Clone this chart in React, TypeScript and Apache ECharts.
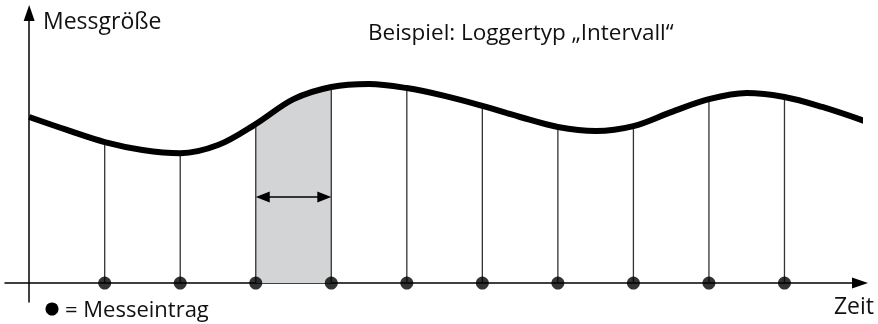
import React, { useEffect, useRef } from "react";
import * as echarts from "echarts";

// Measured quantity over time (arbitrary units)
const curveTimes = [0, 0.5, 1, 1.5, 2, 2.5, 3, 3.5, 4, 4.5, 5, 5.5, 6, 6.5, 7, 7.5, 8, 8.5, 9, 9.5, 10, 10.5, 11.06];
const curveValues = [6.15, 5.67, 5.22, 4.93, 4.81, 5.11, 5.89, 6.81, 7.26, 7.37, 7.22, 6.93, 6.56, 6.15, 5.78, 5.63, 5.81, 6.33, 6.81, 7.04, 6.89, 6.52, 6.0];
// Logger entries (interval logger)
const sampleTimes = [1, 2, 3, 4, 5, 6, 7, 8, 9, 10];
// Highlighted interval
const intervalBounds = [3, 4];
const intervalArrowLevel = [3.19];

const yAxisTitle = "Messgröße";
const xAxisTitle = "Zeit";
const chartTitle = "Beispiel: Loggertyp „Intervall“";
const legendText = "= Messeintrag";

const FONT = "Open Sans";

export default function App() {
  const ref = useRef<HTMLDivElement>(null);
  useEffect(() => {
    const chart = echarts.init(ref.current!, null, { renderer: "svg" });
    const curve = curveTimes.map((t, i) => [t, curveValues[i]]);
    const valueAt = (t: number) => curveValues[curveTimes.indexOf(t)];
    const samples = sampleTimes.map((t) => [t, valueAt(t)]);
    const areaData = curve.filter(([t]) => t >= intervalBounds[0] && t <= intervalBounds[1]);

    chart.setOption({
      animation: false,
      grid: { left: 5, right: 18, top: 13, bottom: 22 },
      xAxis: {
        type: "value",
        min: -0.32,
        max: 11,
        axisLine: {
          onZero: true,
          symbol: ["none", "triangle"],
          symbolSize: [11, 16],
          lineStyle: { color: "#000", width: 1.5 },
        },
        axisTick: { show: false },
        axisLabel: { show: false },
        splitLine: { show: false },
      },
      yAxis: {
        type: "value",
        min: -0.7,
        max: 10,
        axisLine: {
          onZero: true,
          show: true,
          symbol: ["none", "triangle"],
          symbolSize: [11, 16],
          lineStyle: { color: "#000", width: 1.5 },
        },
        axisTick: { show: false },
        axisLabel: { show: false },
        splitLine: { show: false },
      },
      series: [
        {
          type: "line",
          data: areaData,
          smooth: 0.35,
          symbol: "none",
          lineStyle: { width: 0 },
          areaStyle: { color: "#d3d4d6", opacity: 1, origin: 0 },
          z: 1,
          silent: true,
        },
        {
          type: "custom",
          data: samples,
          encode: { x: 0, y: 1 },
          clip: false,
          z: 2,
          renderItem: (params: any, api: any) => {
            const t = api.value(0);
            const v = api.value(1);
            const p0 = api.coord([t, 0]);
            const p1 = api.coord([t, v]);
            return {
              type: "line",
              shape: { x1: p0[0], y1: p0[1], x2: p1[0], y2: p1[1] },
              style: { stroke: "#333", lineWidth: 1.3 },
            };
          },
        },
        {
          type: "line",
          data: curve,
          smooth: 0.35,
          symbol: "none",
          clip: false,
          lineStyle: { color: "#000", width: 6 },
          z: 3,
        },
        {
          type: "custom",
          data: [[intervalBounds[0], intervalBounds[1], intervalArrowLevel[0]]],
          encode: { x: [0, 1], y: 2 },
          z: 3,
          renderItem: (params: any, api: any) => {
            const a = api.coord([api.value(0), api.value(2)]);
            const b = api.coord([api.value(1), api.value(2)]);
            const L = 14;
            const H = 5.5;
            return {
              type: "group",
              children: [
                {
                  type: "line",
                  shape: { x1: a[0] + 4, y1: a[1], x2: b[0] - 4, y2: b[1] },
                  style: { stroke: "#000", lineWidth: 1.5 },
                },
                {
                  type: "polygon",
                  shape: { points: [[a[0], a[1]], [a[0] + L, a[1] - H], [a[0] + L, a[1] + H]] },
                  style: { fill: "#000" },
                },
                {
                  type: "polygon",
                  shape: { points: [[b[0], b[1]], [b[0] - L, b[1] - H], [b[0] - L, b[1] + H]] },
                  style: { fill: "#000" },
                },
              ],
            };
          },
        },
        {
          type: "scatter",
          data: sampleTimes.map((t) => [t, 0]),
          symbol: "circle",
          symbolSize: 13,
          itemStyle: { color: "#000" },
          z: 4,
        },
      ],
      graphic: [
        {
          type: "text",
          x: 43,
          y: 20,
          style: { text: yAxisTitle, fill: "#111", font: `23px "${FONT}"`, verticalAlign: "middle" },
        },
        {
          type: "text",
          x: 368,
          y: 31,
          style: { text: chartTitle, fill: "#111", font: `22.5px "${FONT}"`, verticalAlign: "middle" },
        },
        {
          type: "circle",
          shape: { cx: 52, cy: 309, r: 6.5 },
          style: { fill: "#000" },
        },
        {
          type: "text",
          x: 65,
          y: 308,
          style: { text: legendText, fill: "#111", font: `22px "${FONT}"`, verticalAlign: "middle" },
        },
        {
          type: "text",
          x: 874,
          y: 305,
          style: { text: xAxisTitle, fill: "#111", font: `23px "${FONT}"`, verticalAlign: "middle", align: "right" },
        },
      ],
    });
    return () => chart.dispose();
  }, []);
  return <div ref={ref} style={{ position: "fixed", left: 0, top: 0, width: 878, height: 324 }} />;
}
